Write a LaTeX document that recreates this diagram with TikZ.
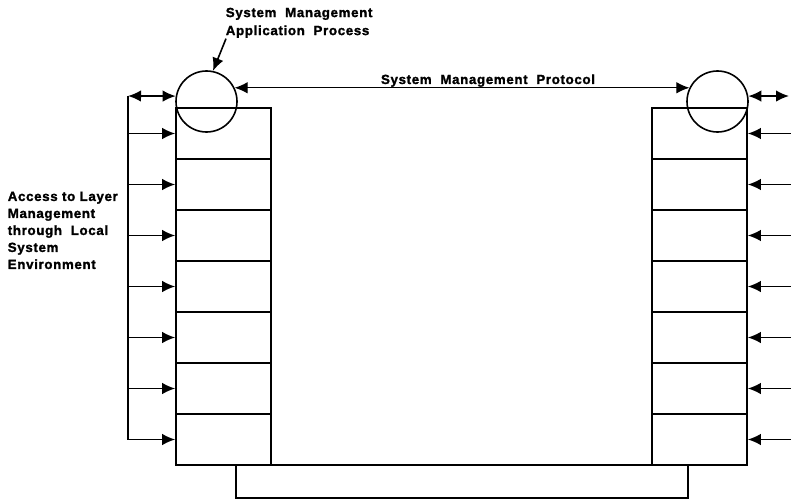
\documentclass[tikz,border=0pt]{standalone}
\usepackage{fontspec}
\setmainfont{Liberation Sans}[LetterSpace=5, BoldFeatures={FakeBold=1.5}]
\usetikzlibrary{arrows.meta}
\tikzstyle{layer}=[shape=rectangle, draw, minimum width=95pt, minimum height=51pt, inner sep=0]
\tikzstyle{smap}=[shape=circle, draw, minimum size=61pt, inner sep=0]
\tikzstyle{arr}=[->]
\tikzstyle{darr}=[<->]
\tikzstyle{lbl}=[font=\bfseries\fontsize{13.3}{17}\selectfont, inner sep=0, align=left]

\begin{document}
\begin{tikzpicture}[x=1pt,y=-1pt,line width=1.6pt,>={Latex[length=13pt,width=11.5pt]}]
\useasboundingbox (0,0) rectangle (791,500);
% left stack
\node at (223.5,133.5)[layer](l1){};
\node at (223.5,184.5)[layer](l2){};
\node at (223.5,235.5)[layer](l3){};
\node at (223.5,286.5)[layer](l4){};
\node at (223.5,337.5)[layer](l5){};
\node at (223.5,388.5)[layer](l6){};
\node at (223.5,439.5)[layer](l7){};
% right stack
\node at (699.5,133.5)[layer](r1){};
\node at (699.5,184.5)[layer](r2){};
\node at (699.5,235.5)[layer](r3){};
\node at (699.5,286.5)[layer](r4){};
\node at (699.5,337.5)[layer](r5){};
\node at (699.5,388.5)[layer](r6){};
\node at (699.5,439.5)[layer](r7){};
\node at (462,481.5)[shape=rectangle, draw, minimum width=452pt, minimum height=33pt, inner sep=0](base){};
\node at (206.5,101.5)[smap](lc){};
\node at (717.5,101.5)[smap](rc){};
% local access
\coordinate (b0) at (128,96);
\coordinate (b1) at (128,133.5);
\coordinate (b2) at (128,184.5);
\coordinate (b3) at (128,235.5);
\coordinate (b4) at (128,286.5);
\coordinate (b5) at (128,337.5);
\coordinate (b6) at (128,388.5);
\coordinate (b7) at (128,439.5);
\draw (b0)--(b7);
\draw[darr] (b0)--(lc.170);
\draw[arr] (b1)--(l1.west);
\draw[arr] (b2)--(l2.west);
\draw[arr] (b3)--(l3.west);
\draw[arr] (b4)--(l4.west);
\draw[arr] (b5)--(l5.west);
\draw[arr] (b6)--(l6.west);
\draw[arr] (b7)--(l7.west);
\coordinate (e0) at (789,96);
\coordinate (e1) at (791,133.5);
\coordinate (e2) at (791,184.5);
\coordinate (e3) at (791,235.5);
\coordinate (e4) at (791,286.5);
\coordinate (e5) at (791,337.5);
\coordinate (e6) at (791,388.5);
\coordinate (e7) at (791,439.5);
\draw[darr] (rc.10)--(e0);
\draw[arr] (e1)--(r1.east);
\draw[arr] (e2)--(r2.east);
\draw[arr] (e3)--(r3.east);
\draw[arr] (e4)--(r4.east);
\draw[arr] (e5)--(r5.east);
\draw[arr] (e6)--(r6.east);
\draw[arr] (e7)--(r7.east);
% protocol
\draw[darr, line width=1.1pt] (lc.26)--(rc.154);
\node at (488,84)[lbl, anchor=base](smp){System\ \ Management\ \ Protocol};
\node at (225,7)[lbl, anchor=north west, font=\bfseries\fontsize{13.3}{18}\selectfont](smap){System\ \ Management\\Application\ \ Process};
\draw[arr] ([xshift=1pt]smap.south west)--(lc.78);
\node at (7,191)[lbl, anchor=north west](acc){Access\ to\ Layer\\Management\\through\ \ Local\\System\\Environment};
\end{tikzpicture}
\end{document}
